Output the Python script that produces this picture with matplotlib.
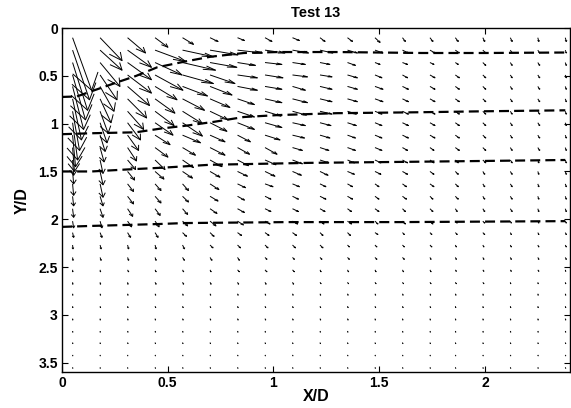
import numpy as np
import matplotlib
matplotlib.use("Agg")
import matplotlib.pyplot as plt
from matplotlib.collections import LineCollection

plt.rcParams.update({
    "font.family": ["Liberation Sans", "DejaVu Sans"],
    "font.weight": "bold",
    "font.size": 10,
    "axes.linewidth": 1.0,
})

# ---------------------------------------------------------------- data
# measurement grid (X/D, Y/D)
X_GRID = [0.05, 0.18, 0.31, 0.44, 0.57, 0.70, 0.83, 0.96, 1.09, 1.22,
          1.35, 1.48, 1.61, 1.74, 1.86, 1.99, 2.12, 2.25, 2.38]
Y_GRID = [0.10, 0.23, 0.36, 0.49, 0.61, 0.74, 0.87, 0.99, 1.12, 1.25,
          1.38, 1.50, 1.63, 1.76, 1.89, 2.02, 2.14, 2.27, 2.40, 2.53,
          2.66, 2.78, 2.91, 3.04, 3.17, 3.29, 3.42, 3.55]

# velocity vectors as drawn (one row per Y_GRID value)
U_ROWS = [
    [0.090, 0.104, 0.085, 0.061, 0.052, 0.038, 0.033, 0.033, 0.033, 0.024, 0.024, 0.024, 0.014, 0.014, 0.014, 0.009, 0.009, 0.005, 0.005],
    [0.080, 0.104, 0.113, 0.146, 0.146, 0.132, 0.118, 0.094, 0.076, 0.061, 0.047, 0.038, 0.028, 0.024, 0.019, 0.014, 0.009, 0.009, 0.005],
    [0.071, 0.094, 0.113, 0.127, 0.156, 0.127, 0.085, 0.080, 0.061, 0.047, 0.038, 0.024, 0.024, 0.019, 0.014, 0.014, 0.009, 0.009, 0.005],
    [0.061, 0.080, 0.113, 0.132, 0.146, 0.118, 0.094, 0.085, 0.071, 0.057, 0.047, 0.033, 0.024, 0.024, 0.019, 0.014, 0.009, 0.009, 0.005],
    [0.052, 0.066, 0.104, 0.104, 0.118, 0.104, 0.094, 0.080, 0.061, 0.057, 0.047, 0.038, 0.028, 0.024, 0.019, 0.014, 0.009, 0.009, 0.005],
    [0.042, 0.052, 0.090, 0.094, 0.104, 0.094, 0.080, 0.080, 0.071, 0.057, 0.047, 0.038, 0.028, 0.024, 0.019, 0.014, 0.009, 0.009, 0.005],
    [0.033, 0.038, 0.076, 0.090, 0.094, 0.085, 0.080, 0.076, 0.066, 0.057, 0.042, 0.033, 0.028, 0.024, 0.019, 0.014, 0.009, 0.009, 0.005],
    [0.024, 0.033, 0.061, 0.085, 0.094, 0.080, 0.080, 0.080, 0.061, 0.052, 0.042, 0.033, 0.028, 0.024, 0.019, 0.014, 0.009, 0.009, 0.005],
    [0.014, 0.024, 0.052, 0.071, 0.085, 0.071, 0.061, 0.071, 0.057, 0.047, 0.038, 0.033, 0.028, 0.024, 0.019, 0.014, 0.009, 0.009, 0.005],
    [0.009, 0.019, 0.042, 0.061, 0.061, 0.071, 0.057, 0.057, 0.047, 0.042, 0.038, 0.033, 0.024, 0.019, 0.019, 0.014, 0.009, 0.009, 0.005],
    [0.005, 0.014, 0.038, 0.047, 0.052, 0.057, 0.052, 0.052, 0.047, 0.042, 0.033, 0.028, 0.024, 0.019, 0.014, 0.014, 0.009, 0.005, 0.005],
    [0.005, 0.014, 0.033, 0.042, 0.047, 0.047, 0.047, 0.047, 0.042, 0.038, 0.033, 0.028, 0.024, 0.019, 0.014, 0.009, 0.009, 0.005, 0.005],
    [0.005, 0.014, 0.028, 0.028, 0.028, 0.042, 0.038, 0.038, 0.033, 0.028, 0.024, 0.019, 0.019, 0.019, 0.014, 0.009, 0.009, 0.005, 0.005],
    [0.005, 0.014, 0.028, 0.028, 0.028, 0.038, 0.033, 0.028, 0.028, 0.028, 0.024, 0.019, 0.019, 0.014, 0.014, 0.009, 0.009, 0.005, 0.005],
    [0.005, 0.014, 0.024, 0.024, 0.024, 0.033, 0.033, 0.028, 0.028, 0.024, 0.019, 0.019, 0.014, 0.014, 0.009, 0.009, 0.009, 0.005, 0.005],
    [0.005, 0.009, 0.019, 0.019, 0.024, 0.028, 0.028, 0.024, 0.024, 0.019, 0.019, 0.014, 0.014, 0.014, 0.009, 0.009, 0.005, 0.005, 0.005],
    [0.005, 0.009, 0.014, 0.014, 0.019, 0.019, 0.019, 0.019, 0.019, 0.014, 0.014, 0.014, 0.009, 0.009, 0.009, 0.009, 0.005, 0.005, 0.005],
    [0.002, 0.005, 0.005, 0.005, 0.009, 0.014, 0.014, 0.014, 0.014, 0.014, 0.009, 0.009, 0.009, 0.009, 0.005, 0.005, 0.005, 0.005, 0.005],
    [0.002, 0.005, 0.005, 0.005, 0.009, 0.009, 0.009, 0.009, 0.009, 0.009, 0.009, 0.009, 0.009, 0.005, 0.005, 0.005, 0.005, 0.005, 0.005],
    [0.001, 0.002, 0.005, 0.005, 0.005, 0.005, 0.009, 0.009, 0.009, 0.005, 0.005, 0.005, 0.005, 0.005, 0.005, 0.005, 0.005, 0.005, 0.002],
    [0.001, 0.002, 0.002, 0.005, 0.005, 0.005, 0.005, 0.005, 0.005, 0.005, 0.005, 0.005, 0.005, 0.005, 0.005, 0.005, 0.002, 0.002, 0.002],
    [0.001, 0.002, 0.002, 0.003, 0.003, 0.003, 0.003, 0.003, 0.003, 0.003, 0.003, 0.003, 0.003, 0.003, 0.003, 0.002, 0.002, 0.002, 0.002],
    [0.001, 0.002, 0.002, 0.003, 0.003, 0.003, 0.003, 0.003, 0.003, 0.003, 0.003, 0.003, 0.003, 0.003, 0.002, 0.002, 0.002, 0.002, 0.002],
    [0.001, 0.001, 0.002, 0.002, 0.003, 0.003, 0.003, 0.003, 0.003, 0.003, 0.003, 0.002, 0.002, 0.002, 0.002, 0.002, 0.002, 0.002, 0.002],
    [0.001, 0.001, 0.002, 0.002, 0.002, 0.002, 0.002, 0.002, 0.002, 0.002, 0.002, 0.002, 0.002, 0.002, 0.002, 0.002, 0.002, 0.002, 0.002],
    [0.001, 0.001, 0.002, 0.002, 0.002, 0.002, 0.002, 0.002, 0.002, 0.002, 0.002, 0.002, 0.002, 0.002, 0.002, 0.002, 0.002, 0.002, 0.002],
    [0.001, 0.001, 0.001, 0.002, 0.002, 0.002, 0.002, 0.002, 0.002, 0.002, 0.002, 0.002, 0.002, 0.002, 0.002, 0.002, 0.002, 0.002, 0.002],
    [0.001, 0.001, 0.001, 0.002, 0.002, 0.002, 0.002, 0.002, 0.002, 0.002, 0.002, 0.002, 0.002, 0.002, 0.002, 0.002, 0.002, 0.002, 0.002],
]
V_ROWS = [
    [0.55, 0.24, 0.16, 0.10, 0.07, 0.04, 0.03, 0.04, 0.03, 0.04, 0.04, 0.05, 0.04, 0.04, 0.04, 0.04, 0.04, 0.04, 0.04],
    [0.52, 0.21, 0.18, 0.12, 0.07, 0.05, 0.03, 0.03, 0.03, 0.03, 0.03, 0.03, 0.03, 0.03, 0.03, 0.03, 0.03, 0.03, 0.03],
    [0.50, 0.25, 0.18, 0.13, 0.08, 0.05, 0.03, 0.02, 0.02, 0.02, 0.03, 0.02, 0.02, 0.02, 0.02, 0.03, 0.03, 0.03, 0.03],
    [0.47, 0.26, 0.19, 0.16, 0.09, 0.09, 0.03, 0.03, 0.02, 0.02, 0.03, 0.03, 0.03, 0.03, 0.03, 0.03, 0.03, 0.03, 0.03],
    [0.45, 0.26, 0.20, 0.14, 0.10, 0.09, 0.04, 0.03, 0.04, 0.03, 0.03, 0.03, 0.03, 0.03, 0.03, 0.03, 0.03, 0.03, 0.03],
    [0.43, 0.25, 0.20, 0.15, 0.12, 0.09, 0.06, 0.04, 0.04, 0.03, 0.03, 0.03, 0.03, 0.03, 0.03, 0.03, 0.03, 0.03, 0.03],
    [0.41, 0.23, 0.19, 0.15, 0.13, 0.09, 0.06, 0.05, 0.04, 0.03, 0.03, 0.03, 0.03, 0.03, 0.03, 0.03, 0.03, 0.03, 0.03],
    [0.39, 0.21, 0.18, 0.13, 0.14, 0.09, 0.07, 0.05, 0.03, 0.03, 0.03, 0.03, 0.03, 0.03, 0.03, 0.03, 0.03, 0.03, 0.03],
    [0.33, 0.17, 0.16, 0.10, 0.08, 0.07, 0.07, 0.05, 0.03, 0.03, 0.03, 0.03, 0.03, 0.03, 0.03, 0.03, 0.03, 0.03, 0.03],
    [0.25, 0.15, 0.14, 0.10, 0.08, 0.08, 0.07, 0.07, 0.03, 0.03, 0.03, 0.03, 0.03, 0.03, 0.03, 0.03, 0.03, 0.03, 0.03],
    [0.16, 0.14, 0.10, 0.10, 0.08, 0.07, 0.06, 0.05, 0.04, 0.03, 0.03, 0.03, 0.03, 0.03, 0.03, 0.03, 0.03, 0.03, 0.03],
    [0.13, 0.14, 0.09, 0.08, 0.07, 0.06, 0.05, 0.05, 0.04, 0.04, 0.03, 0.03, 0.03, 0.03, 0.03, 0.03, 0.03, 0.03, 0.03],
    [0.12, 0.14, 0.08, 0.07, 0.07, 0.06, 0.04, 0.03, 0.03, 0.03, 0.03, 0.03, 0.03, 0.03, 0.03, 0.03, 0.03, 0.03, 0.03],
    [0.10, 0.10, 0.08, 0.07, 0.06, 0.05, 0.04, 0.03, 0.03, 0.03, 0.03, 0.03, 0.03, 0.03, 0.03, 0.03, 0.03, 0.03, 0.03],
    [0.09, 0.09, 0.08, 0.07, 0.06, 0.05, 0.04, 0.03, 0.03, 0.03, 0.03, 0.03, 0.03, 0.03, 0.03, 0.03, 0.03, 0.03, 0.03],
    [0.07, 0.07, 0.06, 0.06, 0.05, 0.05, 0.04, 0.03, 0.03, 0.03, 0.03, 0.03, 0.03, 0.03, 0.02, 0.02, 0.02, 0.02, 0.02],
    [0.05, 0.05, 0.05, 0.05, 0.04, 0.04, 0.03, 0.03, 0.03, 0.03, 0.03, 0.02, 0.02, 0.02, 0.02, 0.02, 0.02, 0.02, 0.02],
    [0.04, 0.04, 0.04, 0.04, 0.04, 0.03, 0.03, 0.03, 0.03, 0.03, 0.02, 0.02, 0.02, 0.02, 0.02, 0.02, 0.02, 0.02, 0.02],
    [0.03, 0.03, 0.03, 0.03, 0.03, 0.03, 0.03, 0.02, 0.02, 0.02, 0.02, 0.02, 0.02, 0.02, 0.02, 0.02, 0.02, 0.02, 0.02],
    [0.02, 0.02, 0.02, 0.02, 0.02, 0.02, 0.02, 0.02, 0.02, 0.02, 0.02, 0.02, 0.02, 0.02, 0.015, 0.015, 0.015, 0.015, 0.015],
    [0.02, 0.02, 0.02, 0.02, 0.02, 0.02, 0.02, 0.02, 0.02, 0.015, 0.015, 0.015, 0.015, 0.015, 0.015, 0.015, 0.015, 0.015, 0.015],
    [0.015, 0.015, 0.015, 0.015, 0.015, 0.015, 0.015, 0.015, 0.015, 0.015, 0.015, 0.015, 0.015, 0.015, 0.015, 0.015, 0.015, 0.015, 0.015],
    [0.015, 0.015, 0.015, 0.015, 0.015, 0.015, 0.015, 0.015, 0.015, 0.015, 0.015, 0.015, 0.015, 0.015, 0.015, 0.015, 0.015, 0.015, 0.015],
    [0.015, 0.015, 0.015, 0.015, 0.015, 0.015, 0.015, 0.015, 0.015, 0.015, 0.015, 0.015, 0.015, 0.015, 0.015, 0.015, 0.015, 0.015, 0.015],
    [0.012, 0.012, 0.012, 0.012, 0.012, 0.012, 0.012, 0.012, 0.012, 0.012, 0.012, 0.012, 0.012, 0.012, 0.012, 0.012, 0.012, 0.012, 0.012],
    [0.012, 0.012, 0.012, 0.012, 0.012, 0.012, 0.012, 0.012, 0.012, 0.012, 0.012, 0.012, 0.012, 0.012, 0.012, 0.012, 0.012, 0.012, 0.012],
    [0.010, 0.010, 0.010, 0.010, 0.010, 0.010, 0.010, 0.010, 0.010, 0.010, 0.010, 0.010, 0.010, 0.010, 0.010, 0.010, 0.010, 0.010, 0.010],
    [0.010, 0.010, 0.010, 0.010, 0.010, 0.010, 0.010, 0.010, 0.010, 0.010, 0.010, 0.010, 0.010, 0.010, 0.010, 0.010, 0.010, 0.010, 0.010],
]

# dashed boundary lines
LINE1_X = [0, 0.07, 0.14, 0.27, 0.35, 0.45, 0.58, 0.70, 0.86, 1.02, 1.3, 1.7, 2.0, 2.38]
LINE1_Y = [0.72, 0.715, 0.66, 0.56, 0.50, 0.41, 0.35, 0.30, 0.26, 0.25, 0.25, 0.26, 0.26, 0.255]
LINE2_X = [0, 0.14, 0.35, 0.47, 0.59, 0.72, 0.86, 1.02, 1.3, 1.7, 2.0, 2.38]
LINE2_Y = [1.11, 1.10, 1.09, 1.05, 1.02, 0.98, 0.93, 0.91, 0.89, 0.88, 0.87, 0.86]
LINE3_X = [0, 0.14, 0.30, 0.48, 0.70, 1.17, 1.6, 2.0, 2.38]
LINE3_Y = [1.50, 1.50, 1.48, 1.46, 1.43, 1.41, 1.40, 1.39, 1.38]
LINE4_X = [0, 0.14, 0.46, 0.58, 1.07, 1.6, 2.38]
LINE4_Y = [2.08, 2.07, 2.05, 2.04, 2.03, 2.03, 2.02]

# ---------------------------------------------------------------- arrows
X, Y = np.meshgrid(X_GRID, Y_GRID)
U = np.array(U_ROWS)
V = np.array(V_ROWS)

# matlab-style quiver: shaft + two barbs computed in data units
a = 0.33
tx, ty = X + U, Y + V
b1x, b1y = tx - a * (U + a * V), ty - a * (V - a * U)
b2x, b2y = tx - a * (U - a * V), ty - a * (V + a * U)

segs = []
for x0, y0, x1, y1, p, q, r, s in zip(X.ravel(), Y.ravel(), tx.ravel(), ty.ravel(),
                                      b1x.ravel(), b1y.ravel(), b2x.ravel(), b2y.ravel()):
    segs.append([(x0, y0), (x1, y1)])
    segs.append([(p, q), (x1, y1), (r, s)])

fig = plt.figure(figsize=(5.71, 4.08), dpi=100)
ax = fig.add_axes([0.1086, 0.088, 0.8888, 0.843])
ax.add_collection(LineCollection(segs, colors="k", linewidths=0.7))

for lx, ly in ((LINE1_X, LINE1_Y), (LINE2_X, LINE2_Y),
               (LINE3_X, LINE3_Y), (LINE4_X, LINE4_Y)):
    ax.plot(lx, ly, color="k", lw=1.6, dashes=(4.5, 2.3))

ax.set_xlim(0, 2.4)
ax.set_ylim(3.6, 0)
ax.set_xticks([0, 0.5, 1, 1.5, 2])
ax.set_xticklabels(["0", "0.5", "1", "1.5", "2"])
ax.set_yticks([0, 0.5, 1, 1.5, 2, 2.5, 3, 3.5])
ax.set_yticklabels(["0", "0.5", "1", "1.5", "2", "2.5", "3", "3.5"])
ax.tick_params(direction="in", top=True, right=True, length=4, width=0.8,
               labelsize=10, pad=3)
ax.set_xlabel("X/D", fontsize=11.5, fontweight="bold", labelpad=-1)
ax.set_ylabel("Y/D", fontsize=11.5, fontweight="bold", labelpad=6)
ax.set_title("Test 13", fontsize=10.5, fontweight="bold", pad=8)

fig.savefig("out.png", dpi=100)
